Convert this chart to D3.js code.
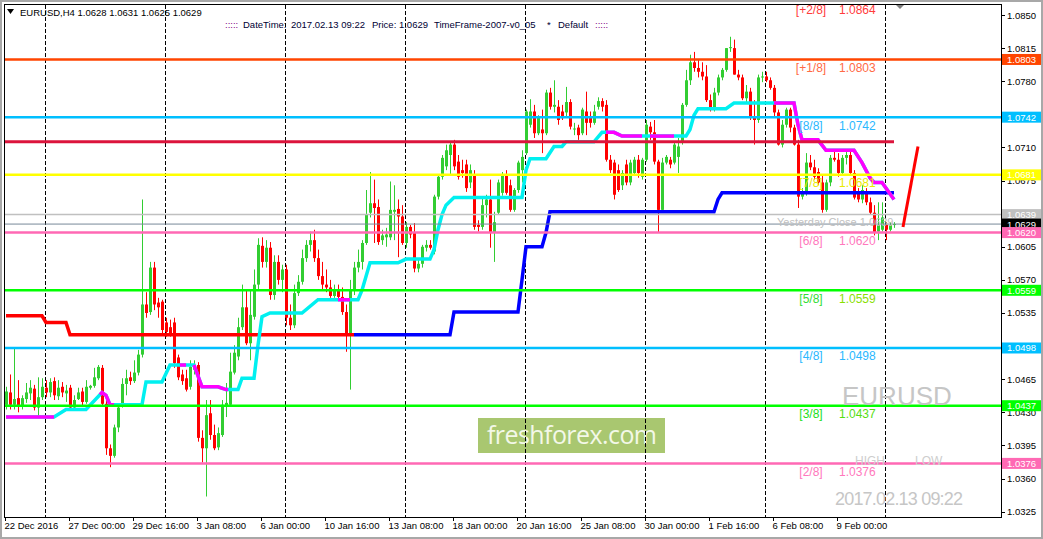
<!DOCTYPE html>
<html>
<head>
<meta charset="utf-8">
<script src="https://cdn.jsdelivr.net/npm/d3@7"></script>
<style>
  html, body { margin: 0; padding: 0; background: #fff; overflow: hidden; }
  svg { display: block; font-family: "Liberation Sans", Arial, sans-serif; }
</style>
</head>
<body>
<svg id="chart" width="1043" height="539"></svg>
<script>
// ---- data (EURUSD H4, bar 0 = 22 Dec 2016) ----
const symbol = "EURUSD", timeframe = "H4", stamp = "2017.02.13 09:22";

const opens = [1.0438,1.0451,1.0438,1.0445,1.0437,1.0444,1.0450,1.0455,1.0435,1.0446,1.0456,1.0451,1.0463,1.0447,1.0457,1.0450,1.0456,1.0435,1.0444,1.0452,
1.0441,1.0456,1.0458,1.0466,1.0477,1.0439,1.0392,1.0384,1.0414,1.0437,1.0460,1.0467,1.0463,1.0472,1.0491,1.0544,1.0536,1.0583,1.0546,1.0547,
1.0525,1.0520,1.0525,1.0488,1.0470,1.0466,1.0457,1.0475,1.0480,1.0403,1.0392,1.0429,1.0406,1.0393,1.0406,1.0437,1.0438,1.0472,1.0489,1.0520,
1.0541,1.0503,1.0531,1.0565,1.0606,1.0589,1.0604,1.0554,1.0589,1.0570,1.0581,1.0530,1.0522,1.0556,1.0568,1.0593,1.0607,1.0612,1.0593,1.0574,
1.0565,1.0562,1.0553,1.0559,1.0552,1.0536,1.0512,1.0559,1.0583,1.0589,1.0609,1.0641,1.0651,1.0647,1.0612,1.0615,1.0615,1.0642,1.0645,1.0637,
1.0609,1.0626,1.0620,1.0582,1.0587,1.0604,1.0607,1.0600,1.0658,1.0679,1.0690,1.0702,1.0713,1.0695,1.0686,1.0692,1.0673,1.0681,1.0628,1.0626,
1.0649,1.0655,1.0620,1.0641,1.0662,1.0681,1.0670,1.0644,1.0665,1.0686,1.0704,1.0734,1.0748,1.0725,1.0729,1.0725,1.0768,1.0753,1.0753,1.0748,
1.0747,1.0758,1.0729,1.0731,1.0725,1.0748,1.0742,1.0736,1.0753,1.0759,1.0755,1.0697,1.0694,1.0686,1.0670,1.0692,1.0673,1.0683,1.0697,1.0679,
1.0697,1.0732,1.0726,1.0695,1.0644,1.0694,1.0697,1.0694,1.0700,1.0715,1.0755,1.0781,1.0800,1.0794,1.0790,1.0785,1.0760,1.0752,1.0768,1.0784,
1.0792,1.0815,1.0815,1.0787,1.0784,1.0762,1.0769,1.0742,1.0739,1.0784,1.0785,1.0781,1.0773,1.0747,1.0713,1.0734,1.0750,1.0731,1.0713,1.0658,
1.0662,1.0694,1.0689,1.0684,1.0673,1.0644,1.0673,1.0699,1.0697,1.0683,1.0699,1.0702,1.0683,1.0662,1.0655,1.0662,1.0652,1.0641,1.0621,1.0623,
1.0628,1.0623,1.0628];

const highs = [1.0457,1.0470,1.0499,1.0464,1.0448,1.0461,1.0464,1.0459,1.0467,1.0466,1.0464,1.0466,1.0467,1.0464,1.0462,1.0459,1.0459,1.0448,1.0456,1.0456,
1.0464,1.0459,1.0477,1.0480,1.0480,1.0443,1.0396,1.0417,1.0438,1.0466,1.0475,1.0473,1.0485,1.0496,1.0655,1.0557,1.0589,1.0589,1.0551,1.0549,
1.0530,1.0528,1.0530,1.0491,1.0475,1.0475,1.0485,1.0485,1.0483,1.0411,1.0443,1.0443,1.0417,1.0414,1.0443,1.0461,1.0493,1.0501,1.0530,1.0565,
1.0559,1.0559,1.0581,1.0614,1.0615,1.0612,1.0610,1.0596,1.0596,1.0586,1.0586,1.0544,1.0565,1.0575,1.0602,1.0612,1.0621,1.0623,1.0602,1.0589,
1.0581,1.0570,1.0565,1.0565,1.0562,1.0544,1.0570,1.0589,1.0602,1.0612,1.0665,1.0684,1.0676,1.0655,1.0623,1.0625,1.0674,1.0670,1.0655,1.0649,
1.0631,1.0628,1.0630,1.0591,1.0607,1.0612,1.0612,1.0660,1.0681,1.0702,1.0713,1.0716,1.0718,1.0702,1.0697,1.0697,1.0692,1.0686,1.0633,1.0658,
1.0660,1.0676,1.0642,1.0676,1.0684,1.0686,1.0676,1.0667,1.0696,1.0707,1.0750,1.0761,1.0755,1.0744,1.0750,1.0771,1.0773,1.0781,1.0760,1.0755,
1.0774,1.0761,1.0736,1.0734,1.0752,1.0769,1.0748,1.0755,1.0763,1.0762,1.0760,1.0702,1.0697,1.0692,1.0686,1.0697,1.0697,1.0700,1.0702,1.0699,
1.0739,1.0737,1.0739,1.0697,1.0699,1.0702,1.0700,1.0716,1.0720,1.0757,1.0792,1.0808,1.0811,1.0803,1.0800,1.0797,1.0766,1.0773,1.0787,1.0794,
1.0815,1.0827,1.0824,1.0792,1.0787,1.0776,1.0773,1.0760,1.0787,1.0790,1.0790,1.0784,1.0776,1.0750,1.0739,1.0752,1.0752,1.0734,1.0718,1.0667,
1.0704,1.0702,1.0697,1.0688,1.0681,1.0676,1.0702,1.0707,1.0704,1.0702,1.0707,1.0707,1.0686,1.0667,1.0670,1.0667,1.0657,1.0649,1.0652,1.0652,
1.0631,1.0631,1.0631];

const lows = [1.0433,1.0433,1.0433,1.0430,1.0433,1.0440,1.0443,1.0432,1.0425,1.0443,1.0446,1.0446,1.0443,1.0443,1.0446,1.0441,1.0433,1.0433,1.0443,1.0437,
1.0439,1.0454,1.0456,1.0464,1.0437,1.0385,1.0372,1.0382,1.0409,1.0435,1.0448,1.0459,1.0461,1.0469,1.0488,1.0530,1.0533,1.0538,1.0530,1.0512,
1.0510,1.0510,1.0477,1.0464,1.0459,1.0452,1.0454,1.0470,1.0399,1.0377,1.0341,1.0401,1.0390,1.0390,1.0404,1.0425,1.0436,1.0470,1.0485,1.0517,
1.0501,1.0485,1.0528,1.0559,1.0583,1.0583,1.0549,1.0549,1.0565,1.0557,1.0522,1.0517,1.0519,1.0553,1.0565,1.0589,1.0600,1.0589,1.0570,1.0559,
1.0557,1.0551,1.0551,1.0549,1.0533,1.0494,1.0454,1.0554,1.0578,1.0581,1.0607,1.0636,1.0609,1.0607,1.0607,1.0605,1.0612,1.0612,1.0594,1.0607,
1.0604,1.0614,1.0578,1.0578,1.0583,1.0600,1.0602,1.0597,1.0655,1.0676,1.0686,1.0681,1.0686,1.0676,1.0678,1.0663,1.0667,1.0623,1.0621,1.0623,
1.0636,1.0604,1.0589,1.0639,1.0659,1.0660,1.0642,1.0642,1.0662,1.0673,1.0702,1.0731,1.0720,1.0723,1.0704,1.0723,1.0750,1.0747,1.0734,1.0739,
1.0743,1.0729,1.0723,1.0718,1.0723,1.0723,1.0731,1.0734,1.0750,1.0748,1.0695,1.0683,1.0655,1.0663,1.0665,1.0670,1.0670,1.0681,1.0678,1.0676,
1.0695,1.0718,1.0692,1.0620,1.0642,1.0692,1.0688,1.0692,1.0683,1.0713,1.0753,1.0776,1.0790,1.0784,1.0781,1.0758,1.0748,1.0748,1.0765,1.0781,
1.0790,1.0811,1.0787,1.0781,1.0760,1.0756,1.0739,1.0713,1.0736,1.0779,1.0779,1.0771,1.0742,1.0712,1.0710,1.0731,1.0726,1.0712,1.0646,1.0655,
1.0659,1.0686,1.0676,1.0670,1.0641,1.0642,1.0669,1.0695,1.0679,1.0681,1.0692,1.0681,1.0655,1.0652,1.0651,1.0649,1.0639,1.0617,1.0612,1.0621,
1.0612,1.0621,1.0625];

const closes = [1.0452,1.0438,1.0444,1.0437,1.0445,1.0451,1.0456,1.0435,1.0446,1.0457,1.0451,1.0462,1.0448,1.0456,1.0451,1.0453,1.0435,1.0443,1.0451,1.0441,
1.0457,1.0458,1.0467,1.0478,1.0439,1.0392,1.0384,1.0414,1.0435,1.0460,1.0466,1.0463,1.0472,1.0491,1.0544,1.0535,1.0583,1.0544,1.0541,1.0517,
1.0515,1.0512,1.0482,1.0467,1.0463,1.0454,1.0478,1.0480,1.0403,1.0392,1.0427,1.0406,1.0392,1.0408,1.0438,1.0440,1.0473,1.0493,1.0520,1.0541,
1.0503,1.0533,1.0565,1.0607,1.0589,1.0604,1.0554,1.0589,1.0570,1.0581,1.0530,1.0522,1.0556,1.0568,1.0593,1.0607,1.0612,1.0593,1.0574,1.0565,
1.0562,1.0553,1.0559,1.0552,1.0536,1.0512,1.0559,1.0583,1.0589,1.0609,1.0639,1.0651,1.0646,1.0610,1.0617,1.0618,1.0644,1.0644,1.0637,1.0609,
1.0626,1.0618,1.0582,1.0587,1.0605,1.0607,1.0604,1.0658,1.0679,1.0699,1.0707,1.0713,1.0690,1.0679,1.0683,1.0667,1.0686,1.0626,1.0626,1.0649,
1.0655,1.0620,1.0631,1.0673,1.0681,1.0662,1.0644,1.0665,1.0694,1.0700,1.0748,1.0748,1.0725,1.0742,1.0725,1.0768,1.0753,1.0755,1.0739,1.0741,
1.0758,1.0732,1.0730,1.0723,1.0750,1.0736,1.0736,1.0748,1.0759,1.0753,1.0697,1.0686,1.0660,1.0665,1.0683,1.0673,1.0694,1.0697,1.0683,1.0697,
1.0734,1.0726,1.0695,1.0644,1.0694,1.0700,1.0692,1.0713,1.0711,1.0755,1.0781,1.0800,1.0794,1.0790,1.0785,1.0760,1.0752,1.0768,1.0784,1.0792,
1.0815,1.0816,1.0787,1.0784,1.0762,1.0769,1.0742,1.0739,1.0784,1.0785,1.0781,1.0773,1.0747,1.0713,1.0734,1.0750,1.0731,1.0713,1.0658,1.0662,
1.0694,1.0689,1.0679,1.0673,1.0644,1.0673,1.0699,1.0697,1.0683,1.0699,1.0702,1.0683,1.0657,1.0655,1.0665,1.0652,1.0641,1.0620,1.0628,1.0636,
1.0623,1.0628,1.0629];

// step trend line [bar, price]: red part then blue part
const redStep = [[0,1.0532],[9,1.0532],[10,1.0525],[15,1.0525],[16,1.0512],[87,1.0512]];
const blueStep = [[87,1.0512],[111,1.0512],[112,1.0536],[128,1.0536],[129,1.0570],[130,1.0605],[134,1.0605],[135,1.0620],[136,1.0642],
  [177,1.0642],[178,1.0655],[179,1.0662],[222,1.0662]];

// trailing line [bar, price] and the bar ranges where it is magenta
const trail = [[0,1.0425],[12,1.0425],[15,1.0433],[20,1.0433],[24,1.0451],[25,1.0448],[26,1.0438],[34,1.0438],[35,1.0462],[39,1.0462],
  [41,1.0480],[47,1.0480],[49,1.0457],[53,1.0457],[55,1.0454],[58,1.0454],[59,1.0466],[62,1.0466],[63,1.0501],[64,1.0531],[66,1.0535],
  [74,1.0535],[78,1.0549],[88,1.0549],[89,1.0559],[91,1.0588],[98,1.0588],[100,1.0592],[106,1.0592],[107,1.0602],[108,1.0623],[109,1.0639],
  [110,1.0649],[112,1.0657],[129,1.0657],[130,1.0686],[131,1.0698],[135,1.0698],[137,1.0711],[139,1.0711],[140,1.0716],[147,1.0716],
  [149,1.0726],[152,1.0726],[154,1.0722],[170,1.0722],[171,1.0729],[172,1.0744],[173,1.0751],[180,1.0751],[182,1.0757],[197,1.0757],
  [198,1.0734],[199,1.0718],[203,1.0718],[205,1.0707],[212,1.0707],[214,1.0694],[216,1.0678],[217,1.0673],[219,1.0673],[222,1.0655]];
const trailDown = [[0,12],[23.5,27],[43.5,45],[47,55.5],[83,86],[150,159],[161,167],[192,222]];

// projection stroke at the right
const projLine = [[224.25,1.0626],[228,1.0711]];

// Murrey levels
const levelNames = ["[+2/8]","[+1/8]","[8/8]","[7/8]","[6/8]","[5/8]","[4/8]","[3/8]","[2/8]"];
const levelValues = [1.0864,1.0803,1.0742,1.0681,1.0620,1.0559,1.0498,1.0437,1.0376];
const crimsonLevel = 1.0716, yesterdayClose = 1.0639, lastPrice = 1.0629;

// axes
const priceTicks = [1.0325,1.0360,1.0395,1.0430,1.0465,1.0500,1.0535,1.0570,1.0605,1.0640,1.0675,1.0710,1.0745,1.0780,1.0815,1.0850];
const timeLabels = ["22 Dec 2016","27 Dec 00:00","29 Dec 16:00","3 Jan 08:00","6 Jan 00:00","10 Jan 16:00","13 Jan 08:00",
  "18 Jan 00:00","20 Jan 16:00","25 Jan 08:00","30 Jan 00:00","1 Feb 16:00","6 Feb 08:00","9 Feb 00:00"];

// ---- styles ----
const upCol = "#32cd32", downCol = "#ff0000";
const levelLine = ["#ff2020","#ff4500","#00bfff","#ffff00","#ff69b4","#00ff00","#00bfff","#00ff00","#ff69b4"];
const levelText = ["#ff3b3b","#ff6a45","#2ab8ff","#eaea00","#ff78bc","#33dd33","#2ab8ff","#22dd22","#ff78bc"];
const valueText = ["#ff3b3b","#ff6a45","#2ab8ff","#eaea00","#ff78bc","#88e000","#2ab8ff","#55dd11","#ff78bc"];
const fmt = d3.format(".4f");

const svg = d3.select("#chart");
const x = d3.scaleLinear().domain([0, 222]).range([6, 894]);
const y = d3.scaleLinear().domain([1.0325, 1.0850]).range([511.65, 15]);

svg.append("rect").attr("x", 1).attr("y", 1).attr("width", 1041).attr("height", 537)
  .attr("fill", "#fff").attr("stroke", "#a8a8a8").attr("stroke-width", 2);

svg.append("defs").append("clipPath").attr("id", "plotClip")
  .append("rect").attr("x", 5).attr("y", 5).attr("width", 996).attr("height", 512);

const plot = svg.append("g").attr("clip-path", "url(#plotClip)");

// logo (sits behind the grid)
plot.append("rect").attr("x", 478).attr("y", 418).attr("width", 187).attr("height", 35).attr("fill", "#a9c770");
plot.append("text").attr("x", 487).attr("y", 444).attr("font-family", "'Open Sans', sans-serif")
  .attr("font-size", 25).attr("fill", "#f3f8e8").attr("textLength", 170).text("freshforex.com");

// vertical dashed grid
plot.selectAll("line.vgrid").data(d3.range(10, 223, 30)).join("line")
  .attr("x1", d => x(d) - 0.5).attr("x2", d => x(d) - 0.5).attr("y1", 5).attr("y2", 517)
  .attr("stroke", "#000").attr("stroke-width", 1).attr("stroke-dasharray", "4,2");

// candles
const bars = opens.map((o, i) => ({ i, o, h: highs[i], l: lows[i], c: closes[i] }));
plot.selectAll("line.wick").data(bars).join("line")
  .attr("x1", d => Math.round(x(d.i)) + 0.5).attr("x2", d => Math.round(x(d.i)) + 0.5)
  .attr("y1", d => y(d.h)).attr("y2", d => y(d.l))
  .attr("stroke", d => d.c >= d.o ? upCol : downCol);
plot.selectAll("rect.body").data(bars).join("rect")
  .attr("x", d => Math.round(x(d.i)) - 1).attr("width", 3)
  .attr("y", d => y(Math.max(d.o, d.c)))
  .attr("height", d => Math.max(1, Math.abs(y(d.o) - y(d.c))))
  .attr("fill", d => d.c >= d.o ? upCol : downCol);

// indicator lines
const line = d3.line().x(d => x(d[0])).y(d => y(d[1]));
function slicePts(pts, a, b) {
  const at = t => {
    for (let k = 0; k < pts.length - 1; k++) {
      const [x0, y0] = pts[k], [x1, y1] = pts[k + 1];
      if (t >= x0 && t <= x1) return [t, y0 + (y1 - y0) * (t - x0) / (x1 - x0)];
    }
    return pts[pts.length - 1];
  };
  return [at(a), ...pts.filter(p => p[0] > a && p[0] < b), at(b)];
}

plot.append("path").attr("d", line(redStep)).attr("fill", "none").attr("stroke", "#ff0000").attr("stroke-width", 3.5);
plot.append("path").attr("d", line(blueStep)).attr("fill", "none").attr("stroke", "#0000ff").attr("stroke-width", 3.5);
plot.append("path").attr("d", line(trail)).attr("fill", "none").attr("stroke", "#00f0f0").attr("stroke-width", 3.5);
plot.selectAll("path.down").data(trailDown).join("path")
  .attr("d", r => line(slicePts(trail, r[0], r[1])))
  .attr("fill", "none").attr("stroke", "#ff00ff").attr("stroke-width", 3.5);

// horizontal levels
plot.selectAll("line.level").data(levelValues).join("line")
  .attr("x1", 5).attr("x2", 1001).attr("y1", d => y(d)).attr("y2", d => y(d))
  .attr("stroke", (d, i) => levelLine[i]).attr("stroke-width", 2.5);
plot.append("line").attr("x1", 5).attr("x2", x(222)).attr("y1", y(crimsonLevel)).attr("y2", y(crimsonLevel))
  .attr("stroke", "#dc143c").attr("stroke-width", 3);
plot.append("line").attr("x1", 5).attr("x2", 1001).attr("y1", y(yesterdayClose)).attr("y2", y(yesterdayClose))
  .attr("stroke", "#c0c0c0").attr("stroke-width", 1.5);
plot.append("line").attr("x1", 5).attr("x2", 1001).attr("y1", y(lastPrice)).attr("y2", y(lastPrice))
  .attr("stroke", "#778899").attr("stroke-width", 1);

plot.append("path").attr("d", line(projLine)).attr("fill", "none").attr("stroke", "#ff0000").attr("stroke-width", 3);

// level labels
svg.selectAll("text.lname").data(levelValues).join("text")
  .attr("x", 811).attr("y", d => y(d) + 12.5).attr("text-anchor", "middle")
  .attr("font-size", 12).attr("fill", (d, i) => levelText[i]).text((d, i) => levelNames[i]);
svg.selectAll("text.lval").data(levelValues).join("text")
  .attr("x", 839).attr("y", d => y(d) + 12.5)
  .attr("font-size", 12).attr("fill", (d, i) => valueText[i]).text(d => fmt(d));

// watermarks
const wm = "#c6c6c6";
svg.append("text").attr("x", 777).attr("y", y(yesterdayClose) + 11).attr("font-size", 11).attr("fill", "#c0c0c0")
  .text("Yesterday Close " + fmt(yesterdayClose));
svg.append("text").attr("x", 842).attr("y", 404.5).attr("font-size", 26).attr("fill", wm).text(symbol);
svg.append("text").attr("x", 855).attr("y", 464.5).attr("font-size", 12).attr("fill", "#cdcdcd").text("HIGH");
svg.append("text").attr("x", 915).attr("y", 464.5).attr("font-size", 12).attr("fill", "#cdcdcd").text("LOW");
svg.append("text").attr("x", 835).attr("y", 505).attr("font-size", 18).attr("fill", wm)
  .attr("textLength", 128).text(stamp);

// frame and axes
svg.append("rect").attr("x", 4.5).attr("y", 4.5).attr("width", 997).attr("height", 513)
  .attr("fill", "none").attr("stroke", "#000").attr("stroke-width", 1);

// price boxes on the axis
const boxes = [[1.0803,"#ff4500"],[1.0742,"#00bfff"],[1.0681,"#ffff00"],[yesterdayClose,"#c0c0c0"],[lastPrice,"#000000"],
  [1.0620,"#ff69b4"],[1.0559,"#00ff00"],[1.0498,"#00bfff"],[1.0437,"#00ff00"],[1.0376,"#ff69b4"]];

// tick labels that a price box fully covers are hidden, as on the terminal
const freeTicks = priceTicks.filter(t => boxes.every(b => Math.abs(y(b[0]) - y(t)) > 4));
const yAxis = svg.append("g");
yAxis.selectAll("line").data(priceTicks).join("line")
  .attr("x1", 1001).attr("x2", 1005).attr("y1", d => Math.round(y(d)) + 0.5).attr("y2", d => Math.round(y(d)) + 0.5)
  .attr("stroke", "#000");
yAxis.selectAll("text").data(freeTicks).join("text")
  .attr("x", 1007).attr("y", d => y(d) + 3.5).attr("font-size", 9.5).attr("fill", "#000").text(d => fmt(d));

const tAxis = svg.append("g");
const tickBars = timeLabels.map((t, k) => k * 16);
tAxis.selectAll("line").data(tickBars).join("line")
  .attr("x1", d => x(d) - 0.5).attr("x2", d => x(d) - 0.5).attr("y1", 517).attr("y2", 521).attr("stroke", "#000");
tAxis.selectAll("text").data(tickBars).join("text")
  .attr("x", d => x(d) - 1.5).attr("y", 529).attr("font-size", 9.5).attr("fill", "#000").text((d, k) => timeLabels[k]);

const bx = svg.selectAll("g.box").data(boxes).join("g");
bx.append("rect").attr("x", 1002).attr("y", d => y(d[0]) - 5.5).attr("width", 39).attr("height", 11).attr("fill", d => d[1]);
bx.append("text").attr("x", 1007).attr("y", d => y(d[0]) + 3.5).attr("font-size", 9.5).attr("fill", "#fff").text(d => fmt(d[0]));

// header
svg.append("path").attr("d", "M7,9L14,9L10.5,14Z").attr("fill", "#000");
const last = bars[bars.length - 1];
svg.append("text").attr("x", 20).attr("y", 16).attr("font-size", 9.5).attr("fill", "#000")
  .text(`${symbol},${timeframe}  ${fmt(last.o)} ${fmt(last.h)} ${fmt(last.l)} ${fmt(last.c)}`);
const info = [[":::::", 225, "#800080"], ["DateTime:", 243, "#000033"], [stamp, 291, "#000033"],
  ["Price: " + fmt(lastPrice), 372, "#000033"], ["TimeFrame-2007-v0_05", 434, "#000033"],
  ["*", 547, "#000033"], ["Default", 558, "#000033"], [":::::", 595, "#800080"]];
svg.selectAll("text.info").data(info).join("text")
  .attr("x", d => d[1]).attr("y", 28).attr("font-size", 9.5).attr("fill", d => d[2]).text(d => d[0]);
svg.append("path").attr("d", "M896,5L904,5L900,9Z").attr("fill", "#808080");
</script>
</body>
</html>
